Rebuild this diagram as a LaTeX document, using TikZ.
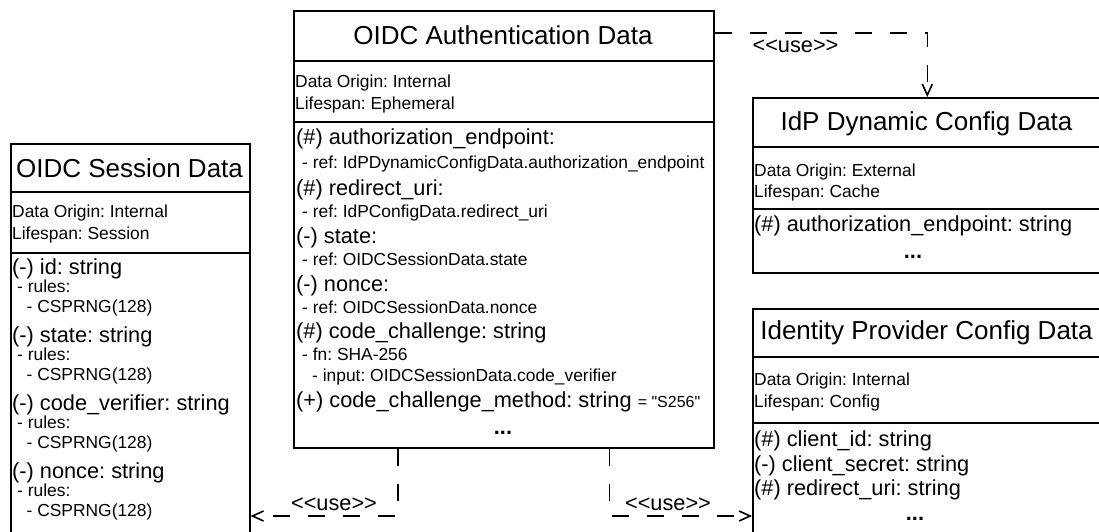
\documentclass[tikz,border=0pt]{standalone}
\usepackage{fontspec}
\newfontfamily\umlfont{Liberation Sans}
\usetikzlibrary{arrows.meta}
\begin{document}
\frenchspacing
\begin{tikzpicture}[x=1pt,y=-1pt,
  umlbox/.style={draw, line width=1.6pt, inner sep=0pt, anchor=north west},
  divider/.style={line width=1.6pt},
  titletext/.style={inner sep=0pt, font=\umlfont\fontsize{26}{31}\selectfont},
  attr/.style={anchor=base west, inner sep=0pt, font=\umlfont\fontsize{21.75}{26}\selectfont},
  meta/.style={anchor=base west, inner sep=0pt, font=\umlfont\fontsize{17.4}{21}\selectfont},
  more/.style={anchor=base, inner sep=0pt, font=\umlfont\bfseries\fontsize{21.75}{26}\selectfont},
  uselabel/.style={anchor=base, inner sep=0pt, font=\umlfont\fontsize{21.75}{26}\selectfont},
  usedep/.style={draw, line width=1.6pt, dash pattern=on 17pt off 18pt,
    -{Straight Barb[length=11pt,width=10pt]}},
]
\newcommand\notefont{\umlfont\fontsize{16}{19}\selectfont}
\useasboundingbox (0,0) rectangle (1099,532);
\clip (0,0) rectangle (1099,532);
\fill[white] (0,0) rectangle (1099,532);

% ---------- OIDC Session Data ----------
\node[umlbox, minimum width=239pt, minimum height=402pt] (sess) at (10,143) {};
\draw[divider] (sess.west |- 0,192) -- (sess.east |- 0,192);
\draw[divider] (sess.west |- 0,253) -- (sess.east |- 0,253);
\node[titletext] (sess-title) at (129.5,168.5) {OIDC Session Data};
\node[meta] (sess-origin) at (12,217.5) {Data Origin: Internal};
\node[meta] (sess-life) at (12,239.5) {Lifespan: Session};
\foreach \field/\y [count=\i] in {id/274.5, state/342.5, code\_verifier/410.5, nonce/478.5} {
  \node[attr] (sess-a\i) at (12,\y) {(-) \field: string};
  \node[meta] (sess-r\i) at (17,\y+18) {- rules:};
  \node[meta] (sess-c\i) at (26.5,\y+38) {- CSPRNG(128)};
}

% ---------- OIDC Authentication Data ----------
\node[umlbox, minimum width=420pt, minimum height=437pt] (auth) at (293,10) {};
\draw[divider] (auth.west |- 0,61) -- (auth.east |- 0,61);
\draw[divider] (auth.west |- 0,122) -- (auth.east |- 0,122);
\node[titletext] (auth-title) at (503,35.5) {OIDC Authentication Data};
\node[meta] (auth-origin) at (295,88) {Data Origin: Internal};
\node[meta] (auth-life) at (295,109.5) {Lifespan: Ephemeral};
\node[attr] (auth-a1) at (296,144) {(\#) authorization\_endpoint:};
\node[meta] (auth-s1) at (302,168.5) {- ref: IdPDynamicConfigData.authorization\_endpoint};
\node[attr] (auth-a2) at (296,195.5) {(\#) redirect\_uri:};
\node[meta] (auth-s2) at (302,217.5) {- ref: IdPConfigData.redirect\_uri};
\node[attr] (auth-a3) at (296,243) {(-) state:};
\node[meta] (auth-s3) at (302,265) {- ref: OIDCSessionData.state};
\node[attr] (auth-a4) at (296,291.5) {(-) nonce:};
\node[meta] (auth-s4) at (302,313) {- ref: OIDCSessionData.nonce};
\node[attr] (auth-a5) at (296,338.5) {(\#) code\_challenge: string};
\node[meta] (auth-s5) at (302,360) {- fn: SHA-256};
\node[meta] (auth-s6) at (312,381) {- input: OIDCSessionData.code\_verifier};
\node[attr] (auth-a6) at (296,407) {(+) code\_challenge\_method: string {\notefont = "S256"}};
\node[more] (auth-more) at (503,434) {...};

% ---------- IdP Dynamic Config Data ----------
\node[umlbox, minimum width=349pt, minimum height=175pt] (dyn) at (752,97) {};
\draw[divider] (dyn.west |- 0,147) -- (dyn.east |- 0,147);
\draw[divider] (dyn.west |- 0,209) -- (dyn.east |- 0,209);
\node[titletext] (dyn-title) at (926.5,123.5) {IdP Dynamic Config Data};
\node[meta] (dyn-origin) at (754,176.5) {Data Origin: External};
\node[meta] (dyn-life) at (754,197) {Lifespan: Cache};
\node[attr] (dyn-a1) at (754,231) {(\#) authorization\_endpoint: string};
\node[more] (dyn-more) at (913,258) {...};

% ---------- Identity Provider Config Data ----------
\node[umlbox, minimum width=349pt, minimum height=237pt] (idp) at (752,308) {};
\draw[divider] (idp.west |- 0,357) -- (idp.east |- 0,357);
\draw[divider] (idp.west |- 0,423) -- (idp.east |- 0,423);
\node[titletext] (idp-title) at (926.5,332.5) {Identity Provider Config Data};
\node[meta] (idp-origin) at (754,385.5) {Data Origin: Internal};
\node[meta] (idp-life) at (754,407) {Lifespan: Config};
\node[attr] (idp-a1) at (754,446.5) {(\#) client\_id: string};
\node[attr] (idp-a2) at (754,471.5) {(-) client\_secret: string};
\node[attr] (idp-a3) at (754,495.5) {(\#) redirect\_uri: string};
\node[more] (idp-more) at (915,520) {...};

% ---------- <<use>> dependencies ----------
\coordinate (lane) at (0,516);
\draw[usedep] ([yshift=-23pt]auth.north east) -| (dyn.north);
\draw[usedep] ([xshift=105pt]auth.south west) |- (sess.east |- lane);
\draw[usedep] ([xshift=-105pt]auth.south east) |- (idp.west |- lane);
\node[uselabel] (use-dyn) at (795.5,53) {<<use>>};
\node[uselabel] (use-sess) at (334,510) {<<use>>};
\node[uselabel] (use-idp) at (668,510) {<<use>>};
\end{tikzpicture}
\end{document}
